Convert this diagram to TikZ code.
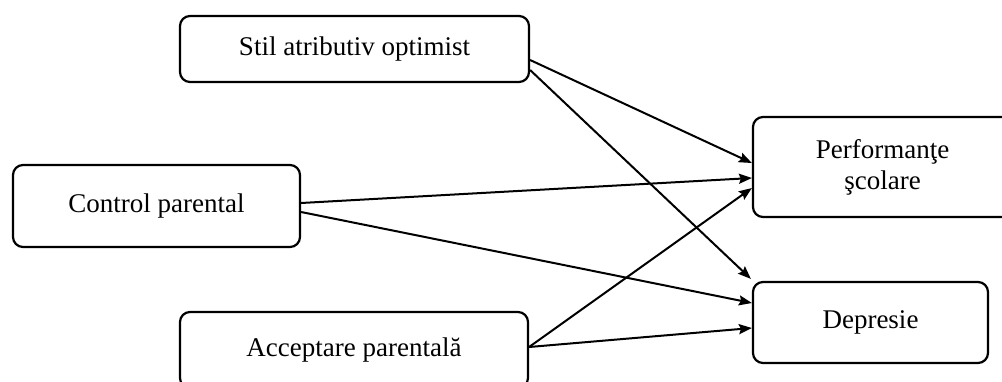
\documentclass[tikz,border=0pt]{standalone}
\usepackage{fontspec}
\setmainfont{Liberation Serif}
\usetikzlibrary{calc,arrows.meta}
\begin{document}
\begin{tikzpicture}[x=0.5pt,y=-0.5pt,
  box/.style={draw,line width=1.1pt,rounded corners=5pt,inner sep=0pt,align=center,font=\fontsize{13.5}{15.5}\selectfont},
  arr/.style={line width=1pt,-{Stealth[length=6.5pt,width=5pt,inset=1pt]}}]
\useasboundingbox (0,0) rectangle (1002,381);
\clip (0,0) rectangle (1002,381);
\node[box,minimum width=174.5pt,minimum height=33pt] (stil) at (354.5,49) {Stil atributiv optimist};
\node[box,minimum width=143.5pt,minimum height=41pt] (ctrl) at (156.5,206) {Control parental};
\node[box,minimum width=174pt,minimum height=38pt] (acc) at (354,350) {Acceptare parentală};
\node[box,minimum width=129.5pt,minimum height=50pt] (perf) at (882.5,167) {Performanţe\\şcolare};
\node[box,minimum width=117.5pt,minimum height=40.5pt] (dep) at (870.5,322.5) {Depresie};
\draw[arr] ($(stil.east)+(0,11)$) -- ($(perf.west)+(0,-4)$);
\draw[arr] ($(stil.east)+(0,21)$) -- ($(dep.north west)+(-1,-2)$);
\draw[arr] ($(ctrl.east)+(0,-3)$) -- ($(perf.west)+(0,11)$);
\draw[arr] ($(ctrl.east)+(0,6)$) -- ($(dep.west)+(0,-19.5)$);
\draw[arr] ($(acc.east)+(0,-3)$) -- ($(perf.west)+(0,21)$);
\draw[arr] ($(acc.east)+(0,-3)$) -- ($(dep.west)+(0,5.5)$);
\end{tikzpicture}
\end{document}
